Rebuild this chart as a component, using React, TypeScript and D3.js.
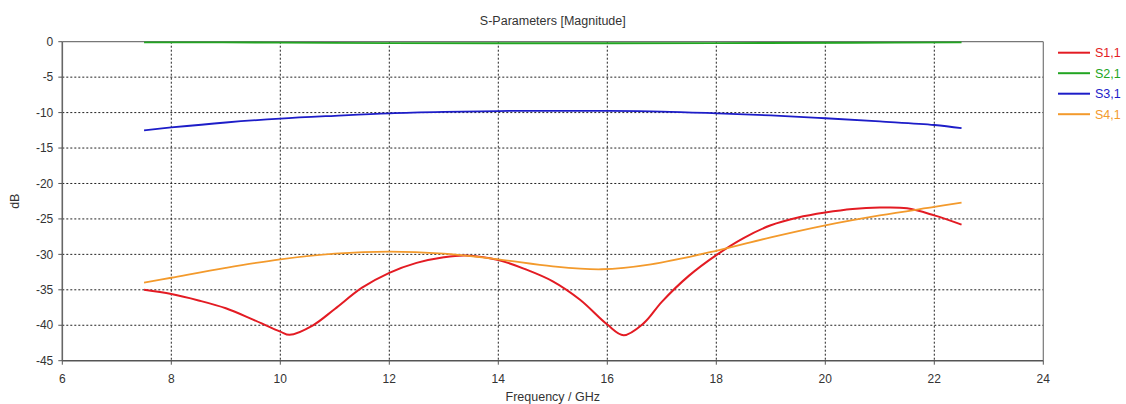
import React from 'react';
import * as d3 from 'd3';

// Frequency sample points (GHz) and magnitudes (dB)
const s11Freq = [7.5, 8, 8.5, 9, 9.5, 10, 10.17, 10.6, 11, 11.5, 12, 12.5, 13, 13.4, 14, 14.5, 15, 15.5, 16, 16.3, 16.67, 17, 17.5, 18, 18.5, 19, 19.5, 20, 20.5, 21, 21.5, 22, 22.5];
const s11Db = [-35.0, -35.6, -36.5, -37.6, -39.2, -40.9, -41.35, -40.0, -37.7, -34.7, -32.6, -31.2, -30.4, -30.15, -30.8, -32.1, -33.8, -36.4, -39.9, -41.4, -39.7, -36.7, -33.0, -30.1, -27.7, -25.9, -24.8, -24.1, -23.6, -23.4, -23.5, -24.5, -25.8];

const s21Freq = [7.5, 10, 12, 15, 18, 20.5, 22.5];
const s21Db = [-0.1, -0.12, -0.2, -0.22, -0.2, -0.15, -0.1];

const s31Freq = [7.5, 8, 9, 10, 11, 12, 13, 14, 15, 16, 17, 18, 19, 20, 21, 22, 22.5];
const s31Db = [-12.5, -12.1, -11.4, -10.85, -10.45, -10.1, -9.9, -9.78, -9.76, -9.76, -9.85, -10.1, -10.4, -10.8, -11.25, -11.75, -12.2];

const s41Freq = [7.5, 8, 9, 10, 11, 12, 13, 14, 15, 15.9, 16.8, 18, 19, 20, 21, 22, 22.5];
const s41Db = [-34.0, -33.3, -31.9, -30.7, -29.9, -29.6, -29.9, -30.7, -31.7, -32.1, -31.4, -29.5, -27.6, -25.9, -24.5, -23.3, -22.7];

const seriesNames = ['S1,1', 'S2,1', 'S3,1', 'S4,1'];
const seriesColors = ['#e31b23', '#22a522', '#1d1dc8', '#f39a2c'];

const xTicks = [6, 8, 10, 12, 14, 16, 18, 20, 22, 24];
const yTicks = [0, -5, -10, -15, -20, -25, -30, -35, -40, -45];

const W = 1126;
const H = 404;
const FONT = 'Liberation Sans, Arial, sans-serif';

export default function App() {
  const x = d3.scaleLinear().domain([6, 24]).range([62.3, 1043.3]);
  const y = d3.scaleLinear().domain([-45, 0]).range([360.7, 41.7]);
  const [x0, x1] = x.range();
  const [y0, y1] = y.range();

  const line = d3
    .line<[number, number]>()
    .x((d) => x(d[0]))
    .y((d) => y(d[1]))
    .curve(d3.curveCatmullRom.alpha(0.5));

  const series = [
    { f: s11Freq, v: s11Db },
    { f: s21Freq, v: s21Db },
    { f: s31Freq, v: s31Db },
    { f: s41Freq, v: s41Db },
  ];

  return (
    <svg width={W} height={H} style={{ position: 'absolute', left: 0, top: 0, background: '#fff' }} fontFamily={FONT}>
      <rect x={0} y={0} width={W} height={H} fill="#fff" />

      {/* grid */}
      {xTicks.filter((t) => t !== 6 && t !== 24).map((t) => (
        <line key={'gx' + t} x1={x(t)} x2={x(t)} y1={y1} y2={y0} stroke="#222" strokeWidth={1} strokeDasharray="2,2" />
      ))}
      {yTicks.filter((t) => t !== 0 && t !== -45).map((t) => (
        <line key={'gy' + t} x1={x0} x2={x1} y1={y(t)} y2={y(t)} stroke="#222" strokeWidth={1} strokeDasharray="2,2" />
      ))}

      {/* frame */}
      <line x1={x0} x2={x1} y1={y1} y2={y1} stroke="#777" strokeWidth={1.2} />
      <line x1={x1} x2={x1} y1={y1} y2={y0} stroke="#777" strokeWidth={1.2} />
      <line x1={x0} x2={x0} y1={y1} y2={y0} stroke="#666" strokeWidth={1.6} />
      <line x1={x0} x2={x1} y1={y0} y2={y0} stroke="#555" strokeWidth={1.6} />

      {/* y axis ticks + labels */}
      {yTicks.map((t) => (
        <g key={'yt' + t}>
          <line x1={x0 - 4} x2={x0} y1={y(t)} y2={y(t)} stroke="#555" strokeWidth={1} />
          <text x={x0 - 9} y={y(t)} dy="0.35em" textAnchor="end" fontSize={12} fill="#333">
            {t}
          </text>
        </g>
      ))}

      {/* x axis ticks + labels */}
      {xTicks.map((t) => (
        <g key={'xt' + t}>
          <line x1={x(t)} x2={x(t)} y1={y0} y2={y0 + 4} stroke="#555" strokeWidth={1} />
          <text x={x(t)} y={383} textAnchor="middle" fontSize={12} fill="#333">
            {t}
          </text>
        </g>
      ))}

      {/* titles */}
      <text x={(x0 + x1) / 2} y={25} textAnchor="middle" fontSize={12.5} fill="#333">
        S-Parameters [Magnitude]
      </text>
      <text x={(x0 + x1) / 2} y={401} textAnchor="middle" fontSize={12.5} fill="#333">
        Frequency / GHz
      </text>
      <text transform={`translate(19, ${(y0 + y1) / 2}) rotate(-90)`} textAnchor="middle" fontSize={12.5} fill="#333">
        dB
      </text>

      {/* curves */}
      {series.map((s, i) => (
        <path
          key={seriesNames[i]}
          d={line(s.f.map((f, j) => [f, s.v[j]]) as [number, number][]) || ''}
          fill="none"
          stroke={seriesColors[i]}
          strokeWidth={i === 0 ? 2 : 1.8}
        />
      ))}

      {/* legend */}
      {seriesNames.map((n, i) => (
        <g key={'lg' + n} transform={`translate(1058, ${52.7 + i * 20.5})`}>
          <line x1={0} x2={32} y1={0} y2={0} stroke={seriesColors[i]} strokeWidth={2} />
          <text x={37} y={0} dy="0.35em" fontSize={12.5} fill={seriesColors[i]}>
            {n}
          </text>
        </g>
      ))}
    </svg>
  );
}
